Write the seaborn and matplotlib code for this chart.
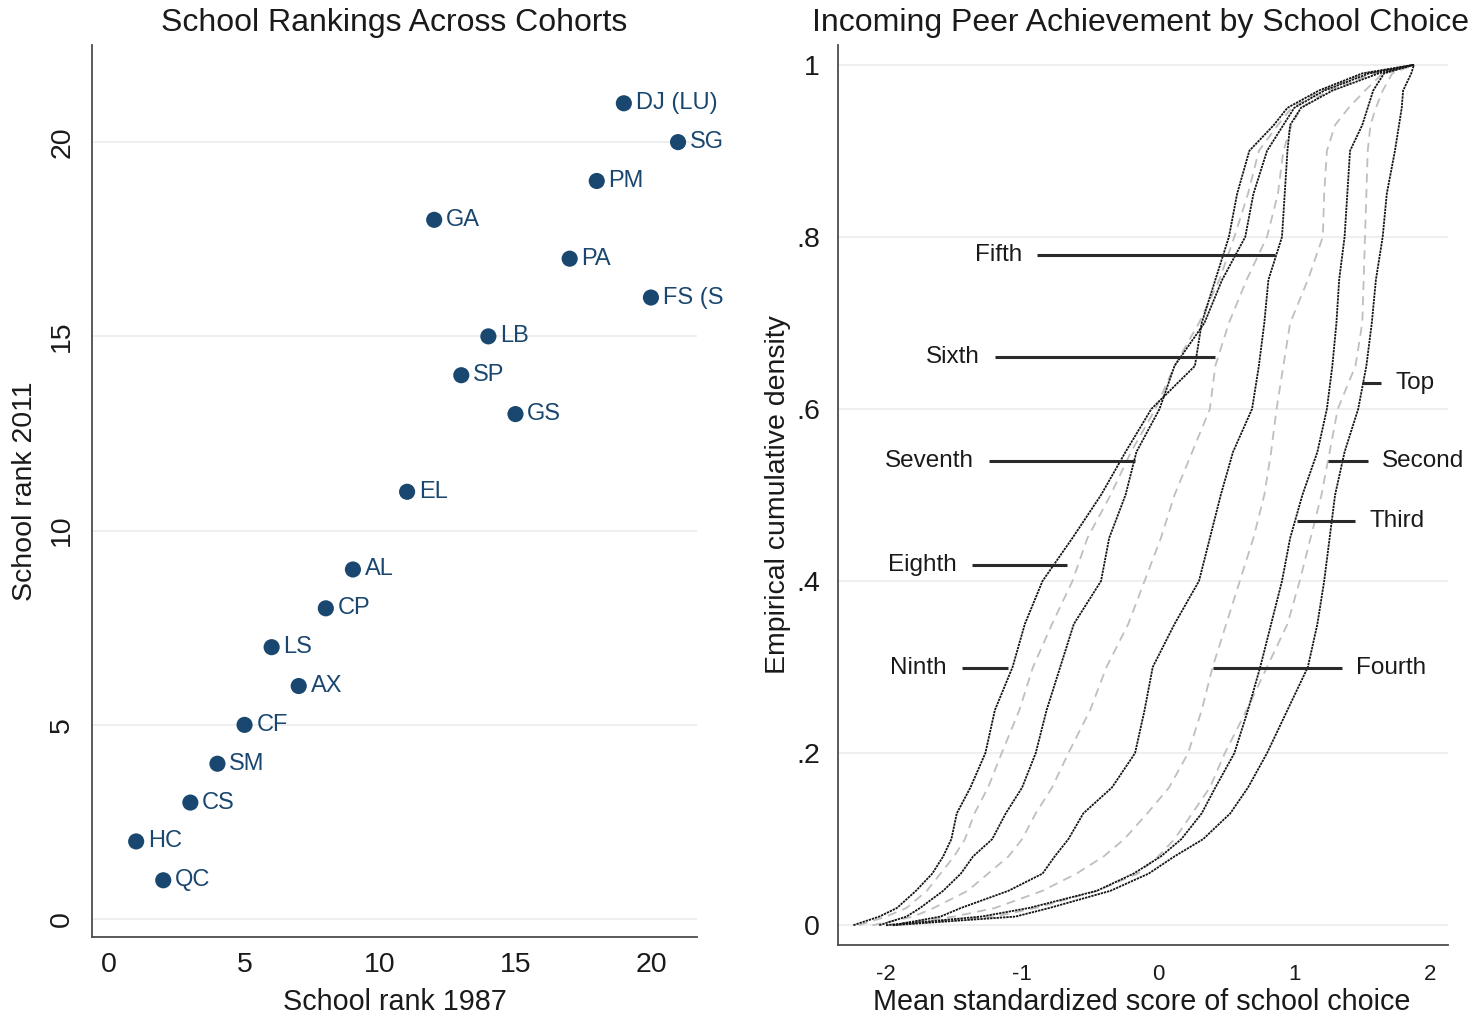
import numpy as np
import pandas as pd
import matplotlib
matplotlib.use("Agg")
import matplotlib.pyplot as plt
import seaborn as sns

# ---------------- data: school rankings ----------------
schools = ["QC", "HC", "CS", "SM", "CF", "AX", "LS", "CP", "AL", "EL",
           "GS", "SP", "LB", "FS (S", "PA", "GA", "PM", "SG", "DJ (LU)"]
rank_1987 = [2, 1, 3, 4, 5, 7, 6, 8, 9, 11, 15, 13, 14, 20, 17, 12, 18, 21, 19]
rank_2011 = [1, 2, 3, 4, 5, 6, 7, 8, 9, 11, 13, 14, 15, 16, 17, 18, 19, 20, 21]

# ---------------- data: empirical CDFs by school choice ----------------
cdf_levels = [0, .01, .02, .04, .06, .08, .10, .13, .16, .20, .25, .30, .35, .40,
              .45, .50, .55, .60, .65, .70, .75, .80, .85, .90, .93, .95, .97, .99, 1.0]
score_top = [-1.95, -1.05, -0.80, -0.35, -0.07, 0.12, 0.33, 0.53, 0.66, 0.80, 0.95, 1.10, 1.17, 1.22,
             1.26, 1.30, 1.37, 1.47, 1.53, 1.57, 1.60, 1.65, 1.68, 1.74, 1.77, 1.79, 1.80, 1.86, 1.88]
score_second = [-1.95, -1.20, -0.90, -0.45, -0.15, 0.00, 0.12, 0.25, 0.38, 0.49, 0.65, 0.80, 0.95, 1.04,
                1.12, 1.20, 1.26, 1.32, 1.45, 1.50, 1.51, 1.52, 1.53, 1.54, 1.56, 1.60, 1.65, 1.72, 1.88]
score_third = [-2.00, -1.30, -0.95, -0.45, -0.18, 0.02, 0.17, 0.32, 0.42, 0.56, 0.66, 0.75, 0.83, 0.91,
               0.97, 1.06, 1.17, 1.24, 1.28, 1.31, 1.33, 1.37, 1.39, 1.41, 1.50, 1.54, 1.58, 1.66, 1.88]
score_fourth = [-2.00, -1.50, -1.20, -0.85, -0.60, -0.40, -0.25, -0.08, 0.08, 0.22, 0.32, 0.40, 0.50, 0.60,
                0.70, 0.78, 0.83, 0.87, 0.92, 0.97, 1.10, 1.21, 1.22, 1.24, 1.30, 1.40, 1.52, 1.65, 1.88]
score_fifth = [-1.95, -1.60, -1.45, -1.10, -0.85, -0.76, -0.66, -0.55, -0.34, -0.17, -0.10, -0.04, 0.12, 0.30,
               0.38, 0.46, 0.55, 0.69, 0.74, 0.78, 0.81, 0.91, 0.93, 0.95, 0.97, 1.05, 1.28, 1.62, 1.88]
score_sixth = [-2.10, -1.80, -1.65, -1.40, -1.25, -1.10, -1.00, -0.90, -0.78, -0.66, -0.50, -0.38, -0.22, -0.10,
               0.02, 0.12, 0.25, 0.38, 0.42, 0.52, 0.65, 0.80, 0.88, 0.92, 0.98, 1.05, 1.25, 1.58, 1.88]
score_seventh = [-2.05, -1.85, -1.75, -1.58, -1.45, -1.36, -1.22, -1.12, -1.00, -0.90, -0.82, -0.72, -0.62, -0.42,
                 -0.36, -0.24, -0.16, 0.01, 0.12, 0.34, 0.47, 0.64, 0.70, 0.80, 0.92, 1.00, 1.22, 1.55, 1.88]
score_eighth = [-2.20, -2.00, -1.85, -1.70, -1.60, -1.50, -1.42, -1.35, -1.25, -1.15, -1.02, -0.92, -0.78, -0.63,
                -0.52, -0.35, -0.20, -0.02, 0.12, 0.30, 0.45, 0.56, 0.66, 0.74, 0.88, 0.98, 1.20, 1.52, 1.88]
score_ninth = [-2.24, -2.05, -1.92, -1.78, -1.66, -1.58, -1.52, -1.48, -1.38, -1.27, -1.20, -1.07, -0.98, -0.85,
               -0.63, -0.42, -0.24, -0.05, 0.27, 0.32, 0.42, 0.52, 0.58, 0.67, 0.85, 0.95, 1.18, 1.50, 1.88]

choice_names = ["Top", "Second", "Third", "Fourth", "Fifth", "Sixth", "Seventh", "Eighth", "Ninth"]
choice_scores = [score_top, score_second, score_third, score_fourth, score_fifth,
                 score_sixth, score_seventh, score_eighth, score_ninth]

# curve labels: y position, leader line start/end (x), side of the text
label_y = [0.630, 0.540, 0.470, 0.299, 0.779, 0.660, 0.540, 0.419, 0.299]
leader_x0 = [1.50, 1.25, 1.02, 0.40, -0.89, -1.20, -1.24, -1.37, -1.44]
leader_x1 = [1.64, 1.54, 1.45, 1.35, 0.86, 0.42, -0.17, -0.67, -1.10]
label_side = ["right", "right", "right", "right", "left", "left", "left", "left", "left"]

# ---------------- styling ----------------
sns.set_style("white")
plt.rcParams["font.family"] = ["Liberation Sans", "DejaVu Sans"]
plt.rcParams["axes.unicode_minus"] = False

NAVY = "#1a476f"
SPINE = "#4d4d4d"
GRID = "#ececec"
W, H = 1482, 1022

fig = plt.figure(figsize=(W / 100, H / 100), dpi=100)
ax1 = fig.add_axes([92 / W, 1 - 937 / H, (697 - 92) / W, (937 - 45) / H])
ax2 = fig.add_axes([838 / W, 1 - 945 / H, (1448 - 838) / W, (945 - 45) / H])

for ax in (ax1, ax2):
    for s in ("top", "right"):
        ax.spines[s].set_visible(False)
    for s in ("left", "bottom"):
        ax.spines[s].set_color(SPINE)
        ax.spines[s].set_linewidth(1.3)
    ax.yaxis.grid(True, color=GRID, linewidth=1.2)
    ax.xaxis.grid(False)
    ax.set_axisbelow(True)
    ax.tick_params(axis="both", direction="out", length=6, width=1.2, color=SPINE,
                   labelcolor="#1a1a1a")

# ---------------- left: rank scatter ----------------
rank_df = pd.DataFrame({"school": schools, "r87": rank_1987, "r11": rank_2011})
sns.scatterplot(data=rank_df, x="r87", y="r11", ax=ax1, s=135, color=NAVY,
                edgecolor="none", linewidth=0, legend=False, zorder=3)
for name, xv, yv in zip(schools, rank_1987, rank_2011):
    ax1.annotate(name, (xv, yv), xytext=(8.5, 0), textcoords="offset points",
                 ha="left", va="center", fontsize=17, color=NAVY)

ax1.set_xlim(-0.63, 21.7)
ax1.set_ylim(-0.46, 22.5)
ax1.set_xticks([0, 5, 10, 15, 20])
ax1.set_yticks([0, 5, 10, 15, 20])
ax1.tick_params(axis="x", labelsize=20.5, pad=5)
ax1.tick_params(axis="y", labelsize=20.5, pad=6, labelrotation=90)
for lab in ax1.get_yticklabels():
    lab.set_va("center")
ax1.set_xlabel("School rank 1987", fontsize=20.7, color="#1a1a1a")
ax1.set_ylabel("School rank 2011", fontsize=20.5, color="#1a1a1a")
ax1.xaxis.set_label_coords(0.5, -(1002 - 937) / 892)
ax1.xaxis.label.set_va("center")
ax1.yaxis.set_label_coords((25 - 92) / 605, 0.5)
ax1.yaxis.label.set_va("center")
fig.text(394.5 / W, 1 - 23 / H, "School Rankings Across Cohorts", ha="center", va="center",
         fontsize=23, color="#1a1a1a")

# ---------------- right: empirical CDFs ----------------
rows = []
for name, xs in zip(choice_names, choice_scores):
    for xv, pv in zip(xs, cdf_levels):
        rows.append((name, xv, pv))
cdf_df = pd.DataFrame(rows, columns=["choice", "score", "cdf"])

dark_choices = ["Top", "Third", "Fifth", "Seventh", "Ninth"]
light_choices = ["Second", "Fourth", "Sixth", "Eighth"]
hue_order = light_choices + dark_choices
palette = {c: "#151515" for c in dark_choices}
palette.update({c: "#bfbfbf" for c in light_choices})
dashes = {c: (1.3, 0.5) for c in dark_choices}
dashes.update({c: (5, 3.5) for c in light_choices})

sns.lineplot(data=cdf_df, x="score", y="cdf", hue="choice", style="choice",
             hue_order=hue_order, style_order=hue_order, palette=palette, dashes=dashes,
             sort=False, estimator=None, linewidth=1.3, legend=False, ax=ax2)

for name, yv, x0, x1, side in zip(choice_names, label_y, leader_x0, leader_x1, label_side):
    ax2.plot([x0, x1], [yv, yv], color="#2a2a2a", linewidth=2.2, solid_capstyle="butt", zorder=4)
    if side == "left":
        ax2.annotate(name, (x0, yv), xytext=(-11, 0), textcoords="offset points",
                     ha="right", va="center", fontsize=17.5, color="#1a1a1a")
    else:
        ax2.annotate(name, (x1, yv), xytext=(10, 0), textcoords="offset points",
                     ha="left", va="center", fontsize=17.5, color="#1a1a1a")

ax2.set_xlim(-2.353, 2.13)
ax2.set_ylim(-0.023, 1.023)
ax2.set_xticks([-2, -1, 0, 1, 2])
ax2.set_xticklabels(["-2", "-1", "0", "1", "2"])
ax2.set_yticks([0, 0.2, 0.4, 0.6, 0.8, 1.0])
ax2.set_yticklabels(["0", ".2", ".4", ".6", ".8", "1"])
ax2.tick_params(axis="x", labelsize=16, pad=8)
ax2.tick_params(axis="y", labelsize=20.5, pad=7)
ax2.set_xlabel("Mean standardized score of school choice", fontsize=20.7, color="#1a1a1a")
ax2.set_ylabel("Empirical cumulative density", fontsize=20.5, color="#1a1a1a")
ax2.xaxis.set_label_coords(0.4975, -(1002 - 945) / 900)
ax2.xaxis.label.set_va("center")
ax2.yaxis.set_label_coords((778 - 838) / 610, 0.5)
ax2.yaxis.label.set_va("center")
fig.text(1141 / W, 1 - 23 / H, "Incoming Peer Achievement by School Choice", ha="center",
         va="center", fontsize=23, color="#1a1a1a")

fig.savefig("out.png", dpi=100, facecolor="white")
